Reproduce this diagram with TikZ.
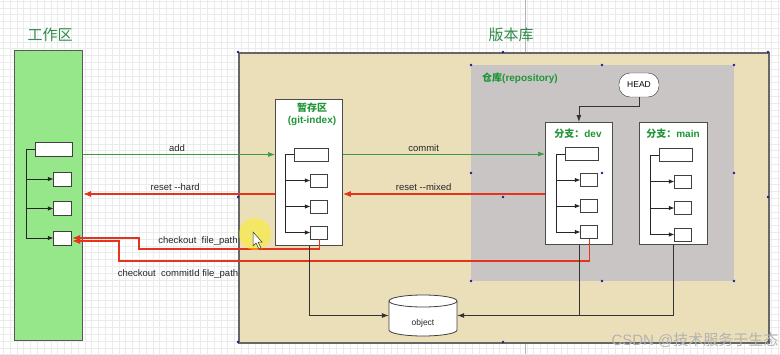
\documentclass[tikz,border=0pt]{standalone}
\usepackage{fontspec}
\setmainfont{Liberation Sans}
\newfontfamily\cjk{Noto Sans CJK SC}
\usetikzlibrary{arrows.meta,calc}
\definecolor{wsgreen}{HTML}{96E68A}
\definecolor{ttlgreen}{HTML}{2E8B4A}
\definecolor{lblgreen}{HTML}{1E9636}
\definecolor{beige}{HTML}{EBDFBA}
\definecolor{repogray}{HTML}{C9C5C5}
\definecolor{redline}{HTML}{E5341D}
\definecolor{addgreen}{HTML}{3C9A45}
\definecolor{gridc}{HTML}{EBEBEB}
\definecolor{handle}{HTML}{1A1A9A}
\newcommand\ftree[7]{%
  \node[fbox,minimum width=#4,minimum height=#7] (#1t) at ({#2+#4/2},#3) {};
  \coordinate (#1v) at ({#2-9},#3);
  \foreach \i/\k in {1/a,2/b,3/c}{%
    \node[fbox,minimum width=#5,minimum height=#7,anchor=east] (#1\k) at ({#2+#4},{#3+\i*#6}) {};
    \draw[treearr] (#1v |- #1\k.west) -- (#1\k.west);
  }
  \draw[treeline] (#1t.west) -- (#1v) -- (#1v |- #1c.west);
}
\begin{document}
\begin{tikzpicture}[x=1pt,y=-1pt,
  fbox/.style={draw=black!75, fill=white, line width=0.7pt, inner sep=0pt},
  container/.style={draw=black!70, fill=white, line width=0.8pt, inner sep=0pt, anchor=north west},
  treeline/.style={draw=black!85, line width=0.7pt},
  treearr/.style={treeline, -{Latex[length=5.5pt,width=4.5pt]}},
  greenarr/.style={draw=addgreen, line width=0.7pt, -{Latex[length=7pt,width=5pt]}},
  redarr/.style={draw=redline, line width=1.1pt, -{Latex[length=8pt,width=6pt]}},
  blkline/.style={draw=black!80, line width=0.8pt},
  blkarr/.style={blkline, -{Latex[length=7pt,width=5pt]}},
  lbl/.style={font=\fontsize{9.5}{11}\selectfont, inner sep=0pt, text=black!85},
  title/.style={font=\cjk\fontsize{15}{17}\selectfont, text=ttlgreen, inner sep=0pt},
  intitle/.style={font=\bfseries\fontsize{10}{12}\selectfont, text=lblgreen, inner sep=0pt}]
\useasboundingbox (0,0) rectangle (780,354);
\fill[white] (0,0) rectangle (780,354);
\foreach \i in {0,...,114} \draw[gridc, line width=0.6pt] ({3.3+\i*6.8},0) -- ({3.3+\i*6.8},354);
\foreach \j in {0,...,52} \draw[gridc, line width=0.6pt] (0,{1+\j*6.8}) -- (780,{1+\j*6.8});
\draw[black!30, line width=0.5pt] (525,0) -- (525,52) (525,342) -- (525,354);

% working area
\node[draw=black!65, fill=wsgreen, line width=1pt, minimum width=68, minimum height=290, inner sep=0pt, anchor=north west] (ws) at (14,50) {};
\node[title] (wstitle) at (50,35) {工作区};

% version store
\node[draw=black!60, fill=beige, line width=1.5pt, minimum width=530, minimum height=290, anchor=north west, inner sep=0pt] (vr) at (238,52) {};
\node[title] (vrtitle) at (511,35) {版本库};
\node[fill=repogray, minimum width=263, minimum height=216, anchor=north west, inner sep=0pt] (repo) at (471,65) {};
\node[intitle, anchor=west] (repotitle) at (482,78) {{\cjk 仓库}(repository)};
\node[draw=black!80, fill=white, rounded corners=11pt, minimum width=40, minimum height=24, inner sep=0pt, font=\fontsize{8.5}{10}\selectfont] (head) at (639,85) {HEAD};

% containers
\node[container, minimum width=67, minimum height=146] (stg) at (275,99) {};
\node[container, minimum width=67, minimum height=122] (dev) at (545,122) {};
\node[container, minimum width=68, minimum height=122] (main) at (639,122) {};
\node[intitle] (stgt1) at (312,108) {\cjk 暂存区};
\node[intitle] (stgt2) at (312,120.5) {(git-index)};
\node[intitle] (devtitle) at (578,134) {{\cjk 分支：}dev};
\node[intitle] (maintitle) at (673,134) {{\cjk 分支：}main};

% file trees
\ftree{w}{35}{149.5}{37}{18}{29.5}{14}
\ftree{s}{294}{154.5}{34}{17}{26}{13}
\ftree{d}{565}{154}{33}{17}{26}{13}
\ftree{m}{659}{155}{33}{17}{26.5}{13}

% HEAD pointer
\draw[blkarr] (head.south) -- ++(0,9) -| (dev.north);

% add / commit
\draw[greenarr] (ws.east |- st) -- (stg.west |- st) node[lbl, pos=0.49, above=2.5pt] {add};
\draw[greenarr] (stg.east |- dt) -- (dev.west |- dt) node[lbl, pos=0.4, above=2.5pt] {commit};

% resets
\coordinate (rst) at (400,194);
\draw[redarr] (dev.west |- rst) -- (stg.east |- rst) node[lbl, pos=0.6, above=3pt] {reset -{}-mixed};
\draw[redarr] (stg.west |- rst) -- (ws.east |- rst) node[lbl, pos=0.52, above=3pt] {reset -{}-hard};

% checkouts
\coordinate (k1) at (139,249);
\coordinate (k2) at (119,261);
\draw[redarr] (sc.south) |- (k1) |- (wc.east);
\draw[redarr] (dc.south) |- (k2) |- ([yshift=-3pt]wc.east);
\node[lbl] (lbl1) at (198,241) {checkout\ \ file\_path};
\node[lbl] (lbl2) at (178,274) {checkout\ \ commitId file\_path};

% object store
\draw[draw=black!75, fill=white, line width=0.8pt] (389,301) -- (389,330) arc[start angle=180, end angle=0, x radius=34, y radius=6] -- (457,301) arc[start angle=0, end angle=-180, x radius=34, y radius=6] -- cycle;
\draw[draw=black!75, line width=0.8pt] (389,301) arc[start angle=180, end angle=0, x radius=34, y radius=6];
\node[minimum width=68, minimum height=41, inner sep=0pt] (obj) at (423,315.5) {};
\node[lbl, font=\fontsize{8.5}{10}\selectfont] (objtext) at (423,323) {object};
\draw[blkarr] (stg.south) |- (obj.west);
\draw[blkarr] (main.south) |- (obj.east);
\draw[blkline] (dev.south) -- (dev.south |- obj.east);

% selection handles
\foreach \p in {(238,52),(503,52),(768,52),(238,197),(503,197),(768,197),(238,342),(503,342),(768,342),(471,65),(602,65),(734,65),(471,173),(602,173),(734,173),(471,281),(602,281),(734,281)}
  \fill[handle] \p circle (1.4);

% cursor highlight
\fill[yellow, opacity=0.45] (255,234) circle (16);
\draw[black!80, fill=white, line width=0.5pt] (253,232) -- (253,246) -- (256,243) -- (259,249) -- (261,248) -- (258,242) -- (262,242) -- cycle;

% watermark
\node[font=\fontsize{15}{17}\selectfont, text=black!30, inner sep=0pt] (wm) at (695,340) {CSDN @{\cjk 技术服务于生态}};
\end{tikzpicture}
\end{document}
